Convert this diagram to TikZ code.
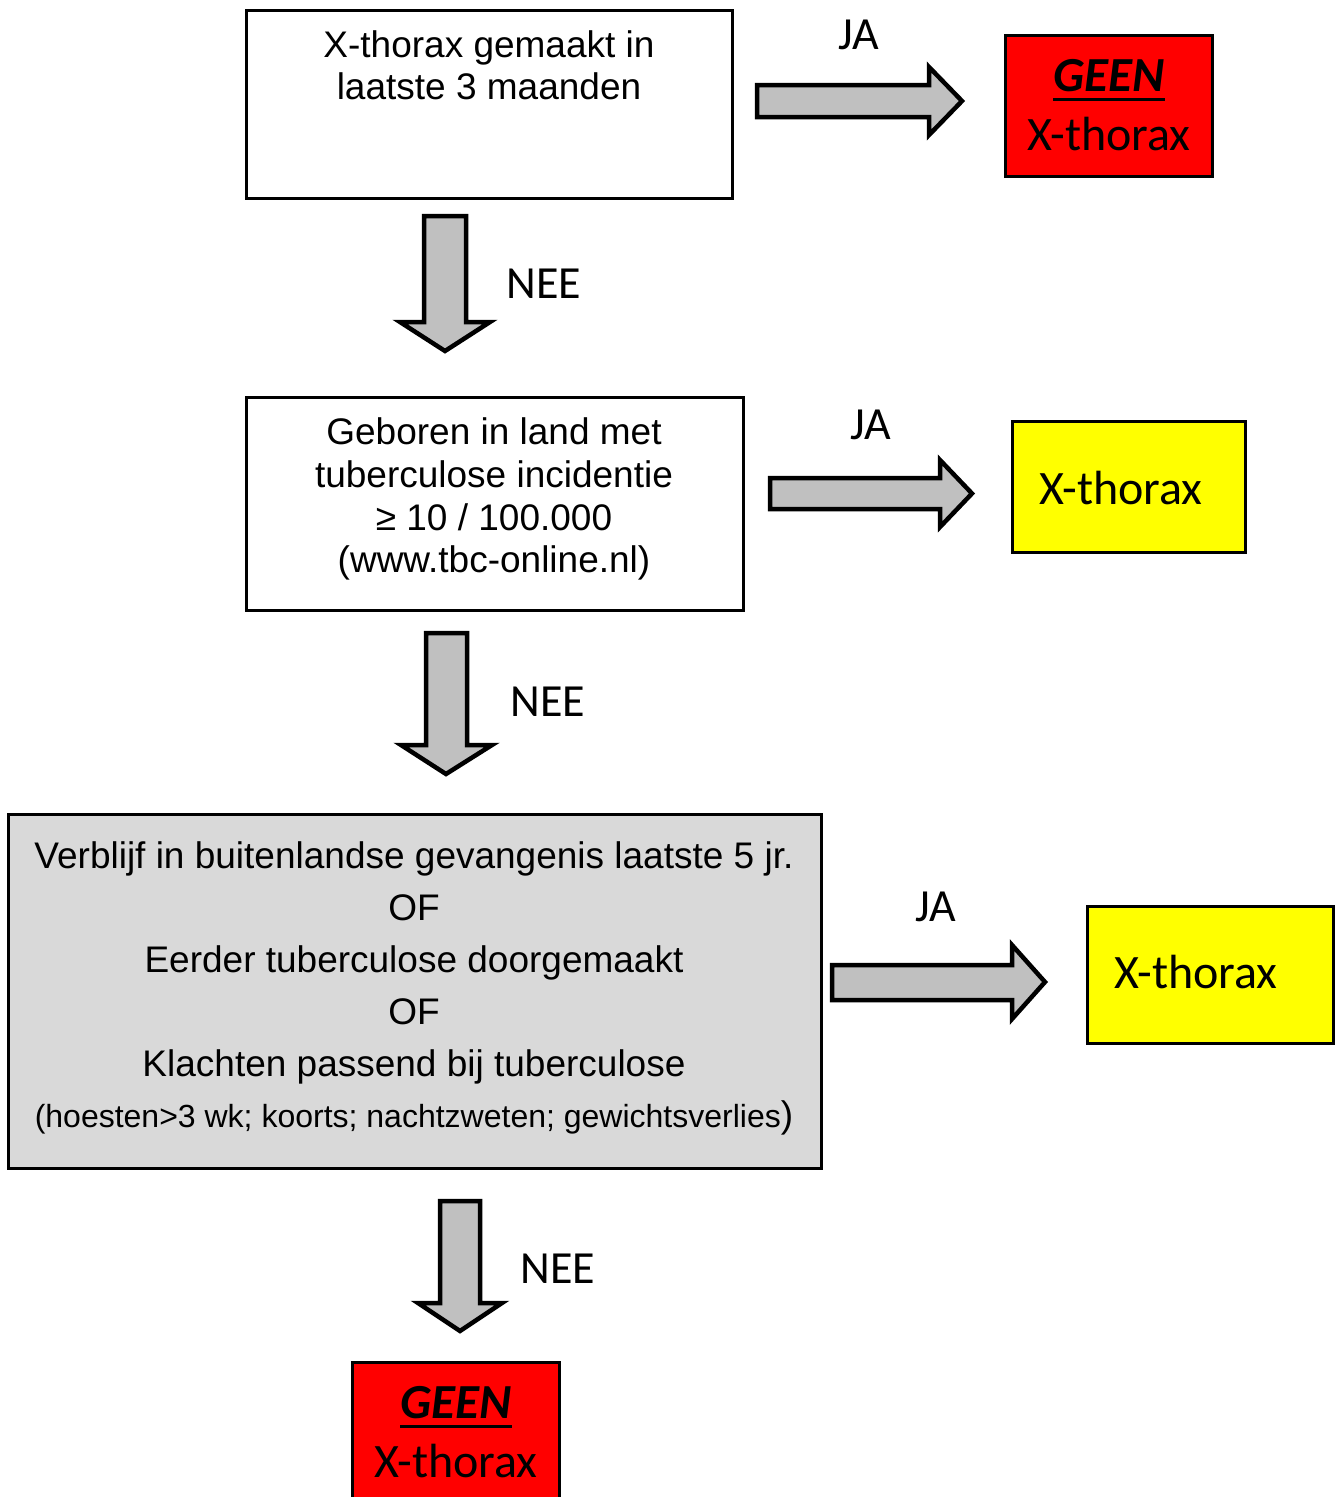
\documentclass[tikz,border=0pt]{standalone}
\usepackage{fontspec}
\setmainfont{Liberation Sans}
\newfontfamily\calfont{Carlito}
\newcommand\geenul[1]{\setbox0\hbox{#1}\rlap{\rule[-10pt]{\wd0}{3.5pt}}\box0}
\definecolor{arrowgray}{HTML}{C0C0C0}
\definecolor{boxgray}{HTML}{D9D9D9}
\definecolor{geenred}{HTML}{FF0000}
\definecolor{xyellow}{HTML}{FFFF00}
\tikzset{
  box/.style={draw=black, line width=3pt, inner sep=0pt},
  blockarrow/.style={draw=black, fill=arrowgray, line width=4.5pt, line join=miter, miter limit=10},
  lbl/.style={font=\calfont\fontsize{46}{52}\selectfont, inner sep=0pt, anchor=base},
  cal/.style={font=\calfont\fontsize{48}{54}\selectfont, inner sep=0pt, anchor=base},
  geen/.style={font=\calfont\bfseries\itshape\fontsize{49}{54}\selectfont, inner sep=0pt, anchor=base},
  txt/.style={font=\fontsize{37}{43}\selectfont, inner sep=0pt, anchor=base},
  smalltxt/.style={font=\fontsize{32}{38}\selectfont, inner sep=0pt, anchor=base}
}
\begin{document}
\begin{tikzpicture}[x=1pt,y=-1pt]
\clip (0,0) rectangle (1336,1497);
\fill[white] (0,0) rectangle (1336,1497);

% boxes
\node[box, minimum width=486pt, minimum height=188pt] (q1) at (489,104) {};
\node[box, fill=geenred, minimum width=207pt, minimum height=141pt] (geen1) at (1108.5,105.5) {};
\node[box, minimum width=497pt, minimum height=213pt] (q2) at (494.5,503.5) {};
\node[box, fill=xyellow, minimum width=233pt, minimum height=131pt] (xt1) at (1128.5,486.5) {};
\node[box, fill=boxgray, minimum width=813pt, minimum height=354pt] (q3) at (414.5,991) {};
\node[box, fill=xyellow, minimum width=246pt, minimum height=137pt] (xt2) at (1210,974.5) {};
\node[box, fill=geenred, minimum width=207pt, minimum height=160pt, anchor=north] (geen2) at (455.5,1361) {};

% texts of question boxes
\node[txt] (q1a) at (489,57) {X-thorax gemaakt in};
\node[txt] (q1b) at (489,99.5) {laatste 3 maanden};

\node[txt] (q2a) at (494,444) {Geboren in land met};
\node[txt] (q2b) at (494,487) {tuberculose incidentie};
\node[txt] (q2c) at (494,530) {≥ 10 / 100.000};
\node[txt] (q2d) at (494,572) {(www.tbc-online.nl)};

\node[txt] (q3a) at (414,868) {Verblijf in buitenlandse gevangenis laatste 5 jr.};
\node[txt] (q3b) at (414,920) {OF};
\node[txt] (q3c) at (414,972) {Eerder tuberculose doorgemaakt};
\node[txt] (q3d) at (414,1024) {OF};
\node[txt] (q3e) at (414,1076) {Klachten passend bij tuberculose};
\node[smalltxt] (q3f) at (414,1127) {(hoesten>3 wk; koorts; nachtzweten; gewichtsverlies{\fontsize{37}{43}\selectfont)}};

% outcome texts
\node[geen] (g1a) at (1109,91) {\geenul{GEEN}};
\node[cal] (g1b) at (1109,150) {X-thorax};
\node[cal] (x1) at (1121,504) {X-thorax};
\node[cal] (x2) at (1196,988) {X-thorax};
\node[geen] (g2a) at (456,1418) {\geenul{GEEN}};
\node[cal] (g2b) at (456,1477) {X-thorax};

% block arrows
\draw[blockarrow] (757,85) -- (929,85) -- (929,67) -- (962,101) -- (929,135) -- (929,117) -- (757,117) -- cycle;
\draw[blockarrow] (770,478) -- (940,478) -- (940,460) -- (972,493.5) -- (940,527) -- (940,509) -- (770,509) -- cycle;
\draw[blockarrow] (832,965) -- (1012,965) -- (1012,945) -- (1045,982) -- (1012,1019) -- (1012,1000) -- (832,1000) -- cycle;

\draw[blockarrow] (424,216) -- (466,216) -- (466,322) -- (490,322) -- (445,351) -- (400,322) -- (424,322) -- cycle;
\draw[blockarrow] (426,633) -- (467,633) -- (467,745) -- (492,745) -- (446,774) -- (401,745) -- (426,745) -- cycle;
\draw[blockarrow] (440,1201) -- (480,1201) -- (480,1303) -- (502,1303) -- (460,1331) -- (418,1303) -- (440,1303) -- cycle;

% labels
\node[lbl] (ja1) at (859,49) {JA};
\node[lbl] (ja2) at (871,439) {JA};
\node[lbl] (ja3) at (936,921) {JA};
\node[lbl] (nee1) at (544,298) {NEE};
\node[lbl] (nee2) at (548,716) {NEE};
\node[lbl] (nee3) at (558,1283) {NEE};
\end{tikzpicture}
\end{document}
